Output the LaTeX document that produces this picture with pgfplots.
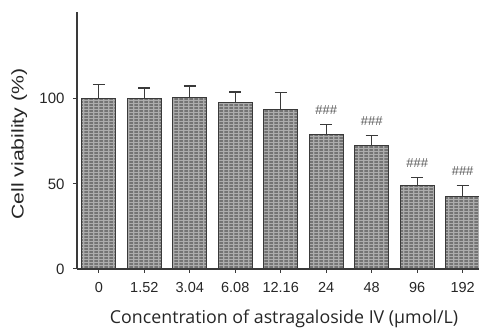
\documentclass[border=0pt]{standalone}
\usepackage{fontspec}
\setmainfont{Liberation Sans}
\newfontfamily\xlabfont{Open Sans}
\newfontfamily\ylabfont{Liberation Sans}[FakeStretch=1.25]
\usepackage{pgfplots}
\pgfplotsset{compat=1.18}
\usetikzlibrary{patterns}
\pgfdeclarepatternformonly{dashrows}{\pgfqpoint{0pt}{0pt}}{\pgfqpoint{5pt}{3.4pt}}{\pgfqpoint{5pt}{3.4pt}}{%
  \pgfpathrectangle{\pgfqpoint{0.5pt}{0.5pt}}{\pgfqpoint{3.4pt}{1.4pt}}\pgfusepath{fill}}
\definecolor{barfill}{HTML}{ACACAC}
\definecolor{dashcol}{HTML}{555555}
\definecolor{edge}{HTML}{3A3A3A}
\begin{document}
\begin{tikzpicture}
\begin{axis}[
  scale only axis, width=402pt, height=257pt,
  xmin=-0.48, xmax=8.36, ymin=0, ymax=151,
  axis lines*=left,
  axis line style={edge, line width=1.2pt},
  xtick={0,1,2,3,4,5,6,7,8},
  xticklabels={0,1.52,3.04,6.08,12.16,24,48,96,192},
  ytick={0,50,100},
  tick align=outside,
  major tick length=4pt,
  tick style={edge, line width=1pt},
  /pgf/number format/assume math mode=true,
  xticklabel style={font=\fontsize{14.5}{16}\selectfont, text=black!85, yshift=-6pt},
  yticklabel style={font=\fontsize{15}{17}\selectfont, text=black!85, xshift=-5pt},
  xlabel={\xlabfont Concentration of astragaloside IV (µmol/L)},
  xlabel style={font=\fontsize{17.8}{20}\selectfont, text=black!85, at={(axis description cs:0.515,-0.195)}, anchor=center},
  ylabel={\ylabfont Cell viability (\%)},
  ylabel style={font=\fontsize{17}{20}\selectfont, text=black!85, at={(axis description cs:-0.144,0.486)}, anchor=center},
  clip=false,
]
\coordinate (bl) at (rel axis cs:0,0);
\coordinate (tr) at (rel axis cs:1,1);
\addplot[ybar, bar width=34pt, fill=barfill, draw=edge, line width=1pt,
  postaction={pattern=dashrows, pattern color=dashcol},
  error bars/.cd, y dir=plus, y explicit,
  error bar style={edge, line width=1.3pt},
  error mark options={edge, rotate=90, mark size=6pt, line width=1.3pt}]
  coordinates {
  (0,100.2) +- (0,8.0)
  (1,100.0) +- (0,6.3)
  (2,100.5) +- (0,7.1)
  (3,97.8) +- (0,6.2)
  (4,94.0) +- (0,9.7)
  (5,78.8) +- (0,5.9)
  (6,72.4) +- (0,6.2)
  (7,49.0) +- (0,4.7)
  (8,42.5) +- (0,6.7)
  };
\addplot[only marks, mark size=0pt,
  nodes near coords={\#\#\#},
  every node near coord/.style={anchor=south, yshift=10pt, inner sep=0pt, font=\fontsize{13}{14}\selectfont, text=black!65}]
  coordinates {(5,84.7) (6,78.6) (7,53.7) (8,49.2)};
\end{axis}
\pgfresetboundingbox
\path ([xshift=-77pt,yshift=-59pt]bl) rectangle ([yshift=12pt]tr);
\end{tikzpicture}
\end{document}
